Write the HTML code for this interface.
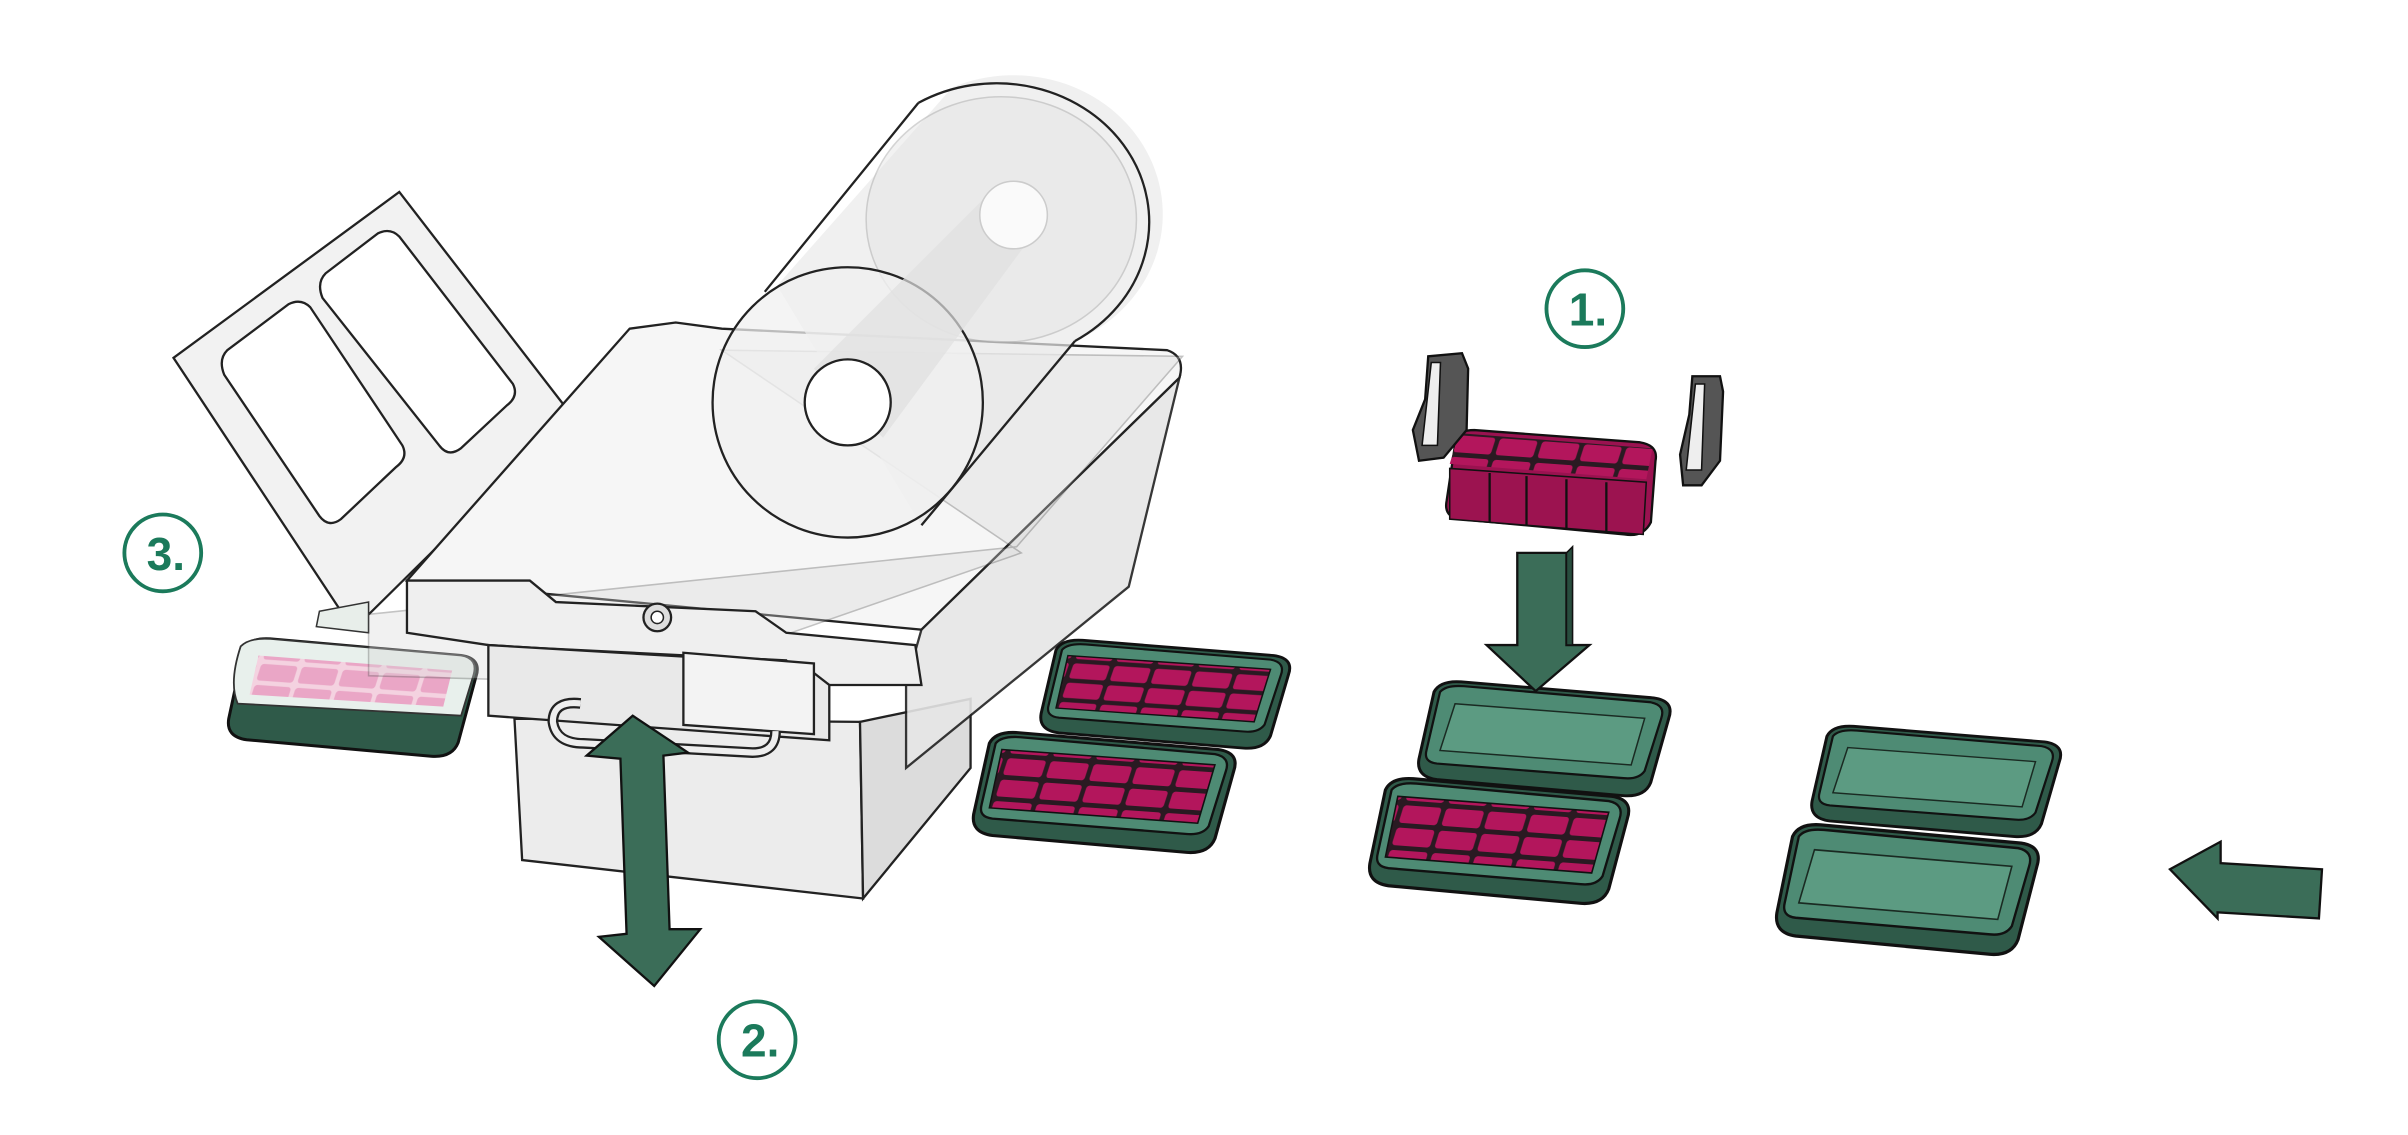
<!DOCTYPE html>
<html><head><meta charset="utf-8">
<style>html,body{margin:0;padding:0;background:#fff;}svg{display:block}</style>
</head><body>
<svg width="2408" height="1135" viewBox="0 0 1568 739" preserveAspectRatio="none" xmlns="http://www.w3.org/2000/svg">
<defs>
  <pattern id="blk" width="28" height="14" patternUnits="userSpaceOnUse" patternTransform="skewX(-14) rotate(4)">
    <rect width="28" height="14" fill="#2a1a22"/>
    <rect x="1.5" y="1.5" width="25" height="11" rx="2" fill="#b3165c"/>
  </pattern>
  <pattern id="blkL" width="28" height="14" patternUnits="userSpaceOnUse" patternTransform="skewX(-14) rotate(4)">
    <rect width="28" height="14" fill="#f4d2e0"/>
    <rect x="1.5" y="1.5" width="25" height="11" rx="2" fill="#eaa6c6"/>
  </pattern>
  <g id="tray">
    <path d="M12,8 Q16,0 30,1 L158,12 Q172,14 168,26 L156,70 Q152,80 138,79 L14,68 Q0,66 2,54 Z" fill="#2f5a49" stroke="#111" stroke-width="2"/>
    <path d="M16,8 Q20,3 32,4 L156,15 Q166,17 163,26 L152,62 Q148,68 138,67 L14,57 Q5,56 7,48 Z" fill="#4e8b74" stroke="#111" stroke-width="1.5"/>
    <path d="M26,16 L152,26 L143,58 L16,48 Z" fill="#5c9b82" stroke="#1a2a22" stroke-width="1"/>
  </g>
  <g id="ftray">
    <use href="#tray"/>
    <path d="M20,12 L156,22 L145,60 L12,50 Z" fill="url(#blk)" stroke="#111" stroke-width="1"/>
  </g>
</defs>

<!-- lid frame -->
<path d="M113,233 L260,125 L372,270 L230,410 Z" fill="#f2f2f2" stroke="#222" stroke-width="1.5"/>
<path d="M148,228 L188,198 Q196,194 202,200 L262,290 Q266,298 258,304 L222,338 Q214,344 208,336 L146,244 Q142,234 148,228 Z" fill="#fff" stroke="#222" stroke-width="1.5"/>
<path d="M212,178 L246,152 Q254,148 260,154 L334,250 Q338,258 330,264 L300,292 Q292,298 286,290 L210,194 Q206,184 212,178 Z" fill="#fff" stroke="#222" stroke-width="1.5"/>

<!-- left tray -->
<g transform="translate(147,415) scale(0.97,0.98)">
  <path d="M12,8 Q16,0 30,1 L158,12 Q172,14 168,26 L156,70 Q152,80 138,79 L14,68 Q0,66 2,54 Z" fill="#2f5a49" stroke="#111" stroke-width="2"/>
  <path d="M10,6 Q16,0 30,1 L158,12 Q170,14 166,26 L158,52 L8,44 Q2,30 10,6Z" fill="#e8f0ec" stroke="#333" stroke-width="1.2"/>
  <path d="M22,12 L152,22 L146,46 L16,38 Z" fill="url(#blkL)"/>
</g>
<path d="M208,398 L240,392 L240,412 L206,408Z" fill="#e8eeea" stroke="#333" stroke-width="1"/>

<!-- lower box -->
<path d="M335,468 L560,470 L562,585 L340,560 Z" fill="#ececec" stroke="#222" stroke-width="1.5"/>
<path d="M560,470 L632,455 L632,500 L562,585 Z" fill="#dcdcdc" stroke="#222" stroke-width="1.5"/>
<!-- machine top plate -->
<path d="M410,214 L440,210 L470,214 L760,228 Q772,232 768,246 L600,410 L265,378 Z" fill="#f6f6f6" stroke="#222" stroke-width="1.5"/>
<!-- right slanted side -->
<path d="M768,246 L735,382 L590,500 L590,445 L600,410 Z" fill="#e6e6e6" stroke="#222" stroke-width="1.5" opacity="0.9"/>
<!-- film sheet -->
<path d="M470,228 L770,232 L662,356 L240,400 L240,440 L420,445 L665,360 Z" fill="#d8d8d8" opacity="0.35" stroke="#555" stroke-width="1"/>
<!-- front frame -->
<path d="M265,378 L345,378 L362,392 L492,398 L512,412 L596,420 L600,446 L522,446 L512,430 L352,422 L318,420 L265,412Z" fill="#efefef" stroke="#222" stroke-width="1.5"/>
<path d="M318,420 L522,432 L540,446 L540,482 L318,466 Z" fill="#e9e9e9" stroke="#222" stroke-width="1.5"/>
<path d="M445,425 L530,432 L530,478 L445,472 Z" fill="#f3f3f3" stroke="#222" stroke-width="1.5"/>
<circle cx="428" cy="402" r="9" fill="#ddd" stroke="#222" stroke-width="1.5"/>
<circle cx="428" cy="402" r="4" fill="#fff" stroke="#222"/>
<!-- handle -->
<path d="M378,458 Q360,456 360,470 Q362,484 380,484 L490,490 Q505,490 505,476" fill="none" stroke="#222" stroke-width="7"/>
<path d="M378,458 Q360,456 360,470 Q362,484 380,484 L490,490 Q505,490 505,476" fill="none" stroke="#eee" stroke-width="4"/>

<!-- roll -->
<path d="M620,57 A88,82 0 0 1 700,222 L600,342 L506,186 Z" fill="#eaeaea" opacity="0.7"/>
<ellipse cx="652" cy="143" rx="88" ry="80" fill="#e6e6e6" stroke="#aaa" stroke-width="1" opacity="0.5"/>
<path d="M598,67 L498,190 M700,222 L600,342" stroke="#222" stroke-width="1.5"/>
<path d="M598,67 A88,80 0 0 1 700,222" fill="none" stroke="#222" stroke-width="1.5"/>
<ellipse cx="552" cy="262" rx="88" ry="88" fill="#f0f0f0" fill-opacity="0.75" stroke="#222" stroke-width="1.5"/>
<path d="M530,240 L640,130 L682,140 L575,285 Z" fill="#e0e0e0" opacity="0.7"/>
<ellipse cx="660" cy="140" rx="22" ry="22" fill="#fafafa" stroke="#ccc"/>
<ellipse cx="552" cy="262" rx="28" ry="28" fill="#fff" stroke="#222" stroke-width="1.5"/>

<!-- trays -->
<use href="#ftray" transform="translate(676,416) scale(0.97,0.9)"/>
<use href="#ftray" transform="translate(632,476) scale(1.02,1.0)"/>
<use href="#tray" transform="translate(922,443) scale(0.98,0.95)"/>
<use href="#ftray" transform="translate(890,506) scale(1.01,1.04)"/>
<use href="#tray" transform="translate(1178,472) scale(0.97,0.92)"/>
<use href="#tray" transform="translate(1155,536) scale(1.02,1.08)"/>

<!-- product block 1 -->
<path d="M948,286 Q950,280 960,280 L1068,288 Q1080,290 1078,300 L1075,340 Q1070,350 1058,348 L950,338 Q940,336 942,326 Z" fill="#9a1250" stroke="#111" stroke-width="1.5"/>
<path d="M950,282 L1076,292 L1072,312 L944,302 Z" fill="url(#blk)"/>
<path d="M944,305 L1072,314 L1070,348 L944,338 Z" fill="#9c1350" stroke="#111"/>
<path d="M970,308 L970,340 M994,310 L994,342 M1020,312 L1020,344 M1046,314 L1046,346" stroke="#111" stroke-width="1.5"/>
<!-- grippers -->
<path d="M930,232 L952,230 L956,240 L955,280 L940,298 L924,300 L920,280 L928,260 Z" fill="#555" stroke="#111" stroke-width="1.5"/>
<path d="M932,236 L938,236 L936,290 L926,290 Z" fill="#eee" stroke="#111"/>
<path d="M1102,245 L1120,245 L1122,255 L1120,300 L1108,316 L1096,316 L1094,296 L1100,270 Z" fill="#555" stroke="#111" stroke-width="1.5"/>
<path d="M1104,250 L1110,250 L1108,306 L1098,306 Z" fill="#eee" stroke="#111"/>

<!-- arrow 1 down -->
<path d="M988,360 L1020,360 L1020,420 L1035,420 L1000,450 L968,420 L988,420 Z" fill="#3b6d58" stroke="#111" stroke-width="1.5"/>
<path d="M1020,360 L1024,356 L1024,420 L1020,420Z" fill="#284d3e" stroke="#111"/>
<!-- arrow 2 double -->
<path d="M412,466 L448,490 L432,492 L436,605 L456,605 L426,642 L390,610 L408,608 L404,494 L382,492 Z" fill="#3b6d58" stroke="#111" stroke-width="1.5"/>
<!-- arrow right (pointing left) -->
<path d="M1413,566 L1446,548 L1446,562 L1512,566 L1510,598 L1444,594 L1444,598 Z" fill="#3b6d58" stroke="#111" stroke-width="1.5"/>

<!-- labels -->
<g font-family="Liberation Sans, sans-serif" font-weight="bold" font-size="30" fill="#1b7a5b" text-anchor="middle">
  <circle cx="1032" cy="201" r="25" fill="none" stroke="#1b7a5b" stroke-width="2.5"/>
  <text x="1034" y="212">1.</text>
  <circle cx="493" cy="677" r="25" fill="none" stroke="#1b7a5b" stroke-width="2.5"/>
  <text x="495" y="688">2.</text>
  <circle cx="106" cy="360" r="25" fill="none" stroke="#1b7a5b" stroke-width="2.5"/>
  <text x="108" y="371">3.</text>
</g>
</svg>
</body></html>
